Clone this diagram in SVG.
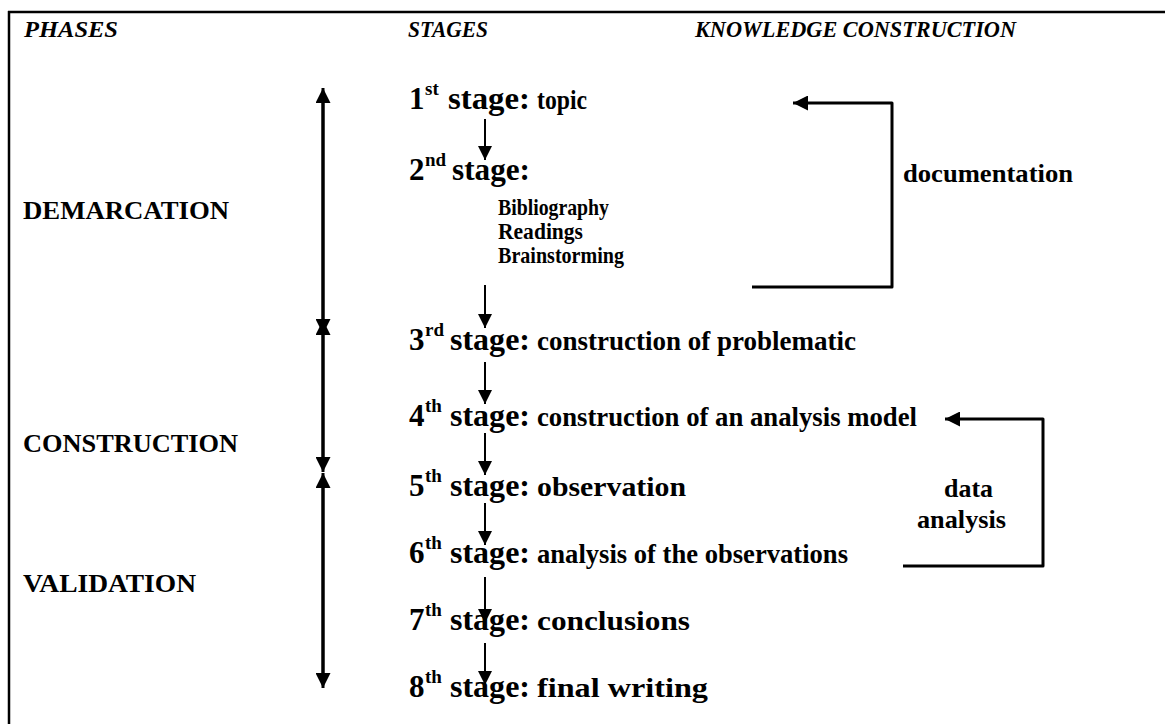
<svg xmlns="http://www.w3.org/2000/svg" width="1165" height="724" viewBox="0 0 1165 724">
<style>
.t{font-family:'Liberation Serif','Times New Roman',serif;font-weight:bold;fill:#000}
.h{font-style:italic;font-size:24px}
.ph{font-size:26px}
.num{font-size:31px}
.sup{font-size:19px}
.stg{font-size:32px}
.rest{font-size:27px}
.sub{font-size:24px}
.lbl{font-size:26px}
.big{stroke:#000;stroke-width:3;fill:none}
.sm{stroke:#000;stroke-width:2;fill:none}
</style>
<defs>
<marker id="ah" viewBox="0 0 16 15" refX="15" refY="7.5" markerWidth="16" markerHeight="15" markerUnits="userSpaceOnUse" orient="auto">
<path d="M0,0 L15,7.5 L0,15 Z" fill="#000"/>
</marker>
<marker id="as" viewBox="0 0 14 14" refX="14" refY="7" markerWidth="14" markerHeight="14" markerUnits="userSpaceOnUse" orient="auto">
<path d="M0,0 L14,7 L0,14 Z" fill="#000"/>
</marker>
</defs>
<rect x="0" y="0" width="1165" height="724" fill="#fff"/>
<g id="frame">
<line x1="8" y1="12" x2="1165" y2="12" stroke="#000" stroke-width="2.5"/>
<line x1="9" y1="11" x2="9" y2="724" stroke="#000" stroke-width="2.5"/>
</g>
<g id="headers">
<text class="t h" x="24" y="37" textLength="94" lengthAdjust="spacingAndGlyphs">PHASES</text>
<text class="t h" x="408" y="37" textLength="80" lengthAdjust="spacingAndGlyphs">STAGES</text>
<text class="t h" x="695" y="37" textLength="321" lengthAdjust="spacingAndGlyphs">KNOWLEDGE CONSTRUCTION</text>
</g>
<g id="phases">
<text class="t ph" x="23" y="219" textLength="206" lengthAdjust="spacingAndGlyphs">DEMARCATION</text>
<text class="t ph" x="23" y="452" textLength="215" lengthAdjust="spacingAndGlyphs">CONSTRUCTION</text>
<text class="t ph" x="23" y="592" textLength="173" lengthAdjust="spacingAndGlyphs">VALIDATION</text>
</g>
<g id="stage1">
<text class="t num" x="409" y="109">1</text>
<text class="t sup" x="425" y="95">st</text>
<text class="t stg" x="448" y="109" textLength="82" lengthAdjust="spacingAndGlyphs">stage:</text>
<text class="t rest" x="537" y="109" textLength="50" lengthAdjust="spacingAndGlyphs">topic</text>
</g>
<g id="stage2">
<text class="t num" x="409" y="180">2</text>
<text class="t sup" x="425" y="166">nd</text>
<text class="t stg" x="452" y="180" textLength="78" lengthAdjust="spacingAndGlyphs">stage:</text>
<text class="t sub" x="498" y="215" textLength="111" lengthAdjust="spacingAndGlyphs">Bibliography</text>
<text class="t sub" x="498" y="239" textLength="85" lengthAdjust="spacingAndGlyphs">Readings</text>
<text class="t sub" x="498" y="263" textLength="126" lengthAdjust="spacingAndGlyphs">Brainstorming</text>
</g>
<g id="stage3">
<text class="t num" x="409" y="350">3</text>
<text class="t sup" x="425" y="336">rd</text>
<text class="t stg" x="450" y="350" textLength="80" lengthAdjust="spacingAndGlyphs">stage:</text>
<text class="t rest" x="537" y="350" textLength="319" lengthAdjust="spacingAndGlyphs">construction of problematic</text>
</g>
<g id="stage4">
<text class="t num" x="409" y="426">4</text>
<text class="t sup" x="425" y="412">th</text>
<text class="t stg" x="450" y="426" textLength="80" lengthAdjust="spacingAndGlyphs">stage:</text>
<text class="t rest" x="537" y="426" textLength="380" lengthAdjust="spacingAndGlyphs">construction of an analysis model</text>
</g>
<g id="stage5">
<text class="t num" x="409" y="496">5</text>
<text class="t sup" x="425" y="482">th</text>
<text class="t stg" x="450" y="496" textLength="80" lengthAdjust="spacingAndGlyphs">stage:</text>
<text class="t rest" x="537" y="496" textLength="149" lengthAdjust="spacingAndGlyphs">observation</text>
</g>
<g id="stage6">
<text class="t num" x="409" y="563">6</text>
<text class="t sup" x="425" y="549">th</text>
<text class="t stg" x="450" y="563" textLength="80" lengthAdjust="spacingAndGlyphs">stage:</text>
<text class="t rest" x="537" y="563" textLength="311" lengthAdjust="spacingAndGlyphs">analysis of the observations</text>
</g>
<g id="stage7">
<text class="t num" x="409" y="630">7</text>
<text class="t sup" x="425" y="616">th</text>
<text class="t stg" x="450" y="630" textLength="80" lengthAdjust="spacingAndGlyphs">stage:</text>
<text class="t rest" x="537" y="630" textLength="153" lengthAdjust="spacingAndGlyphs">conclusions</text>
</g>
<g id="stage8">
<text class="t num" x="409" y="697">8</text>
<text class="t sup" x="425" y="683">th</text>
<text class="t stg" x="450" y="697" textLength="80" lengthAdjust="spacingAndGlyphs">stage:</text>
<text class="t rest" x="537" y="697" textLength="171" lengthAdjust="spacingAndGlyphs">final writing</text>
</g>
<g id="labels">
<text class="t lbl" x="903" y="182" textLength="170" lengthAdjust="spacingAndGlyphs">documentation</text>
<text class="t lbl" x="944" y="497" textLength="49" lengthAdjust="spacingAndGlyphs">data</text>
<text class="t lbl" x="917" y="528" textLength="89" lengthAdjust="spacingAndGlyphs">analysis</text>
</g>
<g id="connectors">
<line class="big" x1="323" y1="330" x2="323" y2="88" marker-end="url(#ah)"/>
<line class="big" x1="323" y1="100" x2="323" y2="334" marker-end="url(#ah)"/>
<line class="big" x1="323" y1="460" x2="323" y2="320" marker-end="url(#ah)"/>
<line class="big" x1="323" y1="330" x2="323" y2="472" marker-end="url(#ah)"/>
<line class="big" x1="323" y1="680" x2="323" y2="473" marker-end="url(#ah)"/>
<line class="big" x1="323" y1="485" x2="323" y2="688" marker-end="url(#ah)"/>
<line class="sm" x1="485" y1="119" x2="485" y2="160" marker-end="url(#as)"/>
<line class="sm" x1="485" y1="285" x2="485" y2="328" marker-end="url(#as)"/>
<line class="sm" x1="485" y1="362" x2="485" y2="404" marker-end="url(#as)"/>
<line class="sm" x1="485" y1="433" x2="485" y2="475" marker-end="url(#as)"/>
<line class="sm" x1="485" y1="503" x2="485" y2="545" marker-end="url(#as)"/>
<line class="sm" x1="485" y1="577" x2="485" y2="623" marker-end="url(#as)"/>
<line class="sm" x1="485" y1="643" x2="485" y2="685" marker-end="url(#as)"/>
<polyline class="big" points="752,287 892,287 892,103 793,103" marker-end="url(#ah)" stroke-linejoin="round"/>
<polyline class="big" points="903,566 1043,566 1043,419 945,419" marker-end="url(#ah)" stroke-linejoin="round"/>
</g>
</svg>
